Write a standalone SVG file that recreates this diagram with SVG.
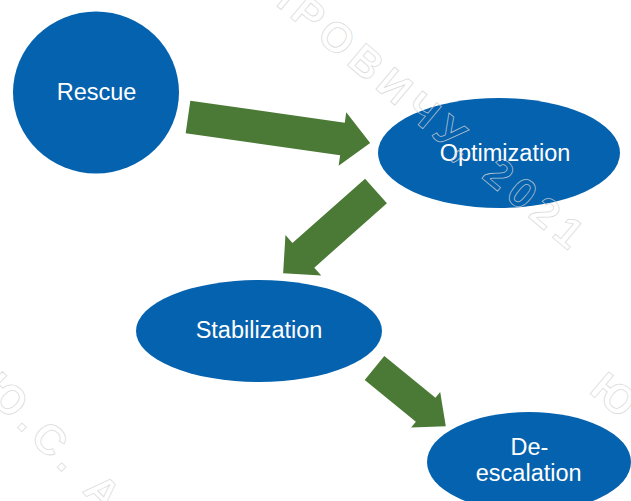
<svg xmlns="http://www.w3.org/2000/svg" width="631" height="501" viewBox="0 0 631 501">
  <style>
    .node { fill: #0562ae; }
    .label { fill: #ffffff; font-family: "Liberation Sans", Arial, sans-serif; font-size: 23.5px; text-anchor: middle; }
    .arrow { fill: #4a7a35; }
    .mark { fill: none; stroke: #d4d4d4; stroke-opacity: 0.85; stroke-width: 0.8; font-family: "Liberation Sans", "DejaVu Sans", sans-serif; font-size: 42px; font-weight: bold; letter-spacing: 7px; }
  </style>

  <!-- block arrows between phases -->
  <g id="connectors">
    <path class="arrow" transform="translate(188,117) rotate(8.1)" d="M0,-16.5 L156,-16.5 L156,-27 L184,0 L156,27 L156,16.5 L0,16.5 Z"/>
    <path class="arrow" transform="translate(376,191) rotate(138.5)" d="M0,-16.5 L97,-16.5 L97,-27 L124,0 L97,27 L97,16.5 L0,16.5 Z"/>
    <path class="arrow" transform="translate(374.5,368) rotate(39.2)" d="M0,-15.5 L66,-15.5 L66,-23 L92,0 L66,23 L66,15.5 L0,15.5 Z"/>
  </g>

  <g id="rescue">
    <ellipse class="node" cx="96" cy="92.5" rx="83" ry="81"/>
    <text class="label" x="96.5" y="100">Rescue</text>
  </g>

  <g id="optimization">
    <ellipse class="node" cx="499" cy="153" rx="121" ry="55"/>
    <text class="label" x="505" y="161.3">Optimization</text>
  </g>

  <g id="stabilization">
    <ellipse class="node" cx="259" cy="331" rx="123" ry="51"/>
    <text class="label" x="259" y="338.3">Stabilization</text>
  </g>

  <g id="de-escalation">
    <ellipse class="node" cx="529" cy="462" rx="102" ry="50"/>
    <text class="label" x="529.5" y="455">De-</text>
    <text class="label" x="528.7" y="481">escalation</text>
  </g>

  <!-- faint outlined watermark laid over everything -->
  <g id="watermark">
    <text class="mark" transform="translate(260,-8) rotate(40)">ИРОВИЧУ, 2021</text>
    <text class="mark" transform="translate(-20,390) rotate(45)">Ю.С. А</text>
    <text class="mark" transform="translate(588,392) rotate(40)">Ю</text>
  </g>
</svg>
